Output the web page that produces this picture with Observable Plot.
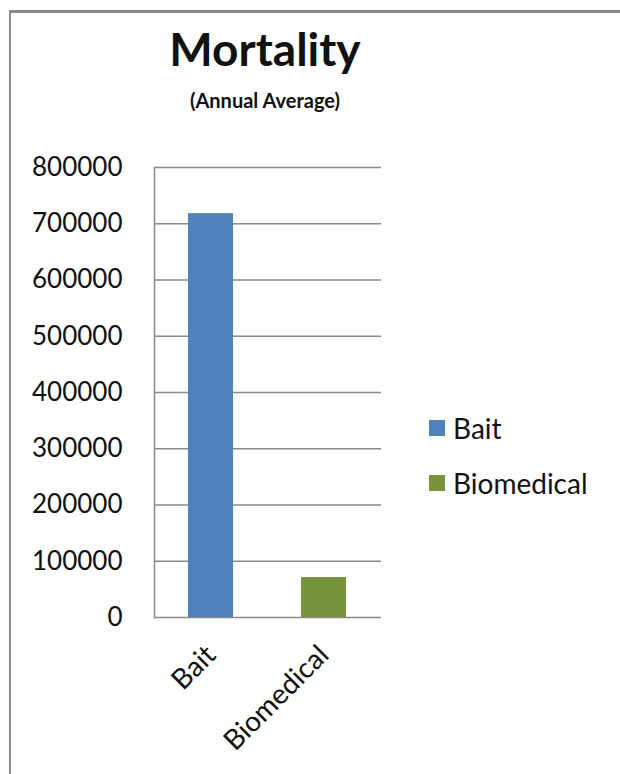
<!DOCTYPE html>
<html>
<head>
<meta charset="utf-8">
<script src="https://cdn.jsdelivr.net/npm/d3@7"></script>
<script src="https://cdn.jsdelivr.net/npm/@observablehq/plot@0.6"></script>
<style>
  html, body { margin: 0; padding: 0; background: #fff; }
  #wrap { position: relative; width: 620px; height: 774px; overflow: hidden; font-family: Lato, "Open Sans", sans-serif; color: #111; }
  #border { position: absolute; left: 9px; top: 10px; width: 800px; height: 900px; border-left: 2px solid #8a8a8a; border-top: 3px solid #8a8a8a; }
  #title { position: absolute; left: 65px; width: 400px; top: 26px; text-align: center; font-weight: 700; font-size: 46px; line-height: 46px; }
  #subtitle { position: absolute; left: 65px; width: 400px; top: 90px; text-align: center; font-weight: 700; font-size: 20px; line-height: 20px; }
  #chart { position: absolute; left: 0; top: 0; }
  #legend { position: absolute; left: 429px; top: 414px; font-size: 28px; }
  .item { display: flex; align-items: center; height: 28px; margin-bottom: 27px; }
  .sw { width: 16px; height: 16px; margin-right: 8px; }
</style>
</head>
<body>
<div id="wrap">
  <div id="border"></div>
  <div id="title">Mortality</div>
  <div id="subtitle">(Annual Average)</div>
  <div id="chart"></div>
  <div id="legend"></div>
</div>
<script>
const categories = ["Bait", "Biomedical"];
const values = [718000, 71000];
const colors = ["#4F81BD", "#77933C"];
const yTicks = [0, 100000, 200000, 300000, 400000, 500000, 600000, 700000, 800000];

const data = categories.map((c, i) => ({category: c, value: values[i]}));

const chart = Plot.plot({
  width: 620,
  height: 774,
  marginLeft: 154,
  marginRight: 239,
  marginTop: 167,
  marginBottom: 157,
  style: {fontFamily: "Lato, 'Open Sans', sans-serif", color: "#111", background: "transparent", overflow: "visible"},
  x: {domain: categories, paddingInner: 0.6, paddingOuter: 0.3, axis: null, label: null},
  y: {domain: [0, 800000], axis: null, label: null},
  color: {domain: categories, range: colors},
  marks: [
    Plot.gridY(yTicks, {stroke: "#8a8a8a", strokeOpacity: 1, strokeWidth: 1.5}),
    Plot.barY(data, {x: "category", y: "value", fill: "category"}),
    Plot.frame({anchor: "left", stroke: "#8a8a8a", strokeWidth: 1.5}),
    Plot.axisY(yTicks, {anchor: "left", tickSize: 0, tickPadding: 32, fontSize: 26, tickFormat: d3.format("d"), label: null}),
    Plot.axisX({tickRotate: -45, tickSize: 0, tickPadding: 33, fontSize: 28, label: null})
  ]
});
document.getElementById("chart").appendChild(chart);

const color = chart.scale("color");
const legend = document.getElementById("legend");
categories.forEach(c => {
  const item = document.createElement("div");
  item.className = "item";
  const sw = document.createElement("div");
  sw.className = "sw";
  sw.style.background = color.apply(c);
  const label = document.createElement("span");
  label.textContent = c;
  item.appendChild(sw);
  item.appendChild(label);
  legend.appendChild(item);
});
</script>
</body>
</html>
